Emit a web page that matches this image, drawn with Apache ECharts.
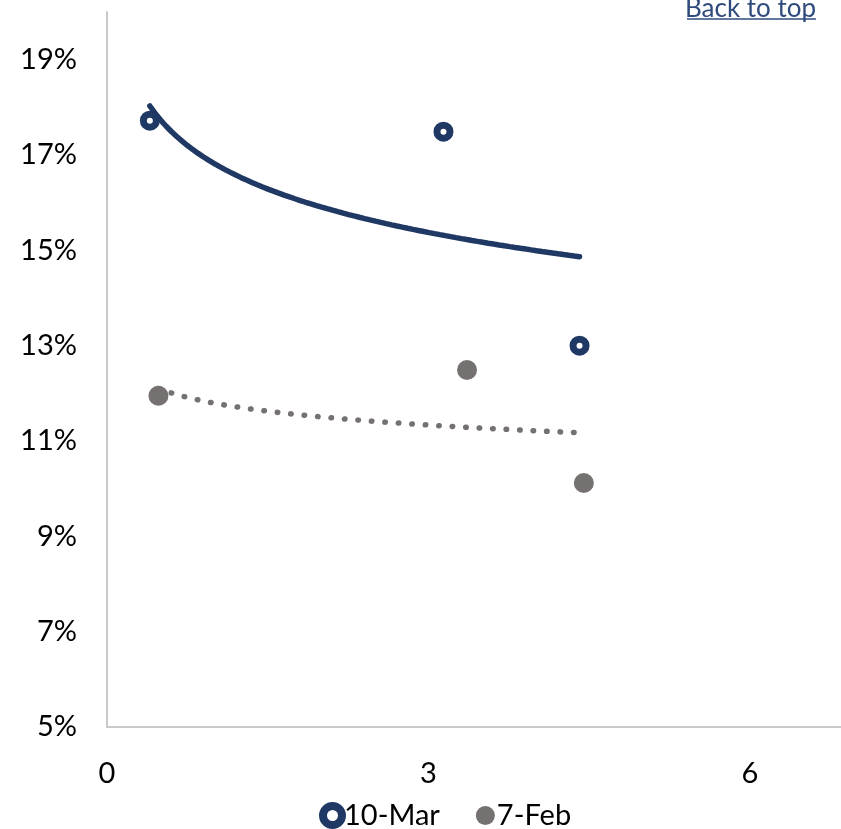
<!DOCTYPE html>
<html>
<head>
<meta charset="utf-8">
<script src="https://cdn.jsdelivr.net/npm/echarts@6/dist/echarts.min.js"></script>
<style>
  html, body { margin: 0; padding: 0; background: #fff; }
  #chart { width: 841px; height: 829px; }
</style>
</head>
<body>
<div id="chart"></div>
<script>
// Series names
const seriesNames = ['10-Mar', '7-Feb'];

// 10-Mar observations: x values and yields (%)
const marX = [0.40, 3.14, 4.41];
const marY = [17.72, 17.49, 13.00];

// 7-Feb observations: x values and yields (%)
const febX = [0.48, 3.36, 4.45];
const febY = [11.95, 12.49, 10.12];

// Axis ticks
const xTicks = [0, 3, 6];
const yTicks = [5, 7, 9, 11, 13, 15, 17, 19];

const NAVY = '#1f3864';
const GREY = '#767171';
const LINK = '#2f4b7c';
const FONT = 'Lato, "Open Sans", sans-serif';

// Least-squares fit of y = a + b*ln(x), sampled between the first and last x
function logTrend(xs, ys, steps) {
  const lx = xs.map(Math.log);
  const n = xs.length;
  const mx = lx.reduce((s, v) => s + v, 0) / n;
  const my = ys.reduce((s, v) => s + v, 0) / n;
  let sxx = 0, sxy = 0;
  for (let i = 0; i < n; i++) {
    sxx += (lx[i] - mx) * (lx[i] - mx);
    sxy += (lx[i] - mx) * (ys[i] - my);
  }
  const b = sxy / sxx;
  const a = my - b * mx;
  const lo = Math.min(...xs), hi = Math.max(...xs);
  const pts = [];
  for (let k = 0; k <= steps; k++) {
    const x = lo + (hi - lo) * k / steps;
    pts.push([x, a + b * Math.log(x)]);
  }
  return pts;
}

const pairs = (xs, ys) => xs.map((x, i) => [x, ys[i]]);

const chart = echarts.init(document.getElementById('chart'));
chart.setOption({
  animation: false,
  backgroundColor: '#fff',
  textStyle: { fontFamily: FONT },
  grid: { left: 107, right: 0, top: 12, bottom: 102, containLabel: false },
  xAxis: {
    type: 'value',
    min: xTicks[0],
    max: 6.85,
    interval: xTicks[1] - xTicks[0],
    axisLine: { show: true, lineStyle: { color: '#c9c9c9', width: 2 } },
    axisTick: { show: false },
    splitLine: { show: false },
    axisLabel: {
      showMaxLabel: false,
      color: '#000', fontSize: 29, fontFamily: FONT, margin: 32,
      formatter: v => xTicks.includes(v) ? String(v) : ''
    }
  },
  yAxis: {
    type: 'value',
    min: yTicks[0],
    max: 20,
    interval: yTicks[1] - yTicks[0],
    axisLine: { show: true, lineStyle: { color: '#c9c9c9', width: 2 } },
    axisTick: { show: false },
    splitLine: { show: false },
    axisLabel: {
      showMaxLabel: false,
      color: '#000', fontSize: 29, fontFamily: FONT, margin: 30,
      formatter: v => yTicks.includes(v) ? v + '%' : ''
    }
  },
  legend: {
    left: 314,
    bottom: -6,
    itemGap: 36,
    itemWidth: 19,
    itemHeight: 19,
    data: [
      { name: seriesNames[0], itemStyle: { color: '#fff', borderColor: NAVY, borderWidth: 8 } },
      { name: seriesNames[1], itemStyle: { color: GREY } }
    ],
    textStyle: { color: '#000', fontSize: 29, fontFamily: FONT, padding: [0, 0, 0, -3] }
  },
  graphic: [
    {
      type: 'text', x: 816, y: 22,
      style: { text: 'Back to top', fill: LINK, fontSize: 26, fontFamily: FONT, align: 'right', verticalAlign: 'bottom' }
    },
    {
      type: 'line',
      shape: { x1: 687, y1: 19, x2: 816, y2: 19 },
      style: { stroke: LINK, lineWidth: 1.5 }
    }
  ],
  series: [
    {
      name: seriesNames[0] + ' trend',
      type: 'line',
      data: logTrend(marX, marY, 80),
      showSymbol: false,
      lineStyle: { color: NAVY, width: 5.5, cap: 'round' },
      z: 2,
      silent: true
    },
    {
      name: seriesNames[1] + ' trend',
      type: 'line',
      data: logTrend(febX, febY, 80),
      showSymbol: false,
      lineStyle: { color: GREY, width: 5.5, type: [0.5, 13], cap: 'round' },
      z: 2,
      silent: true
    },
    {
      name: seriesNames[0],
      type: 'scatter',
      data: pairs(marX, marY),
      symbol: 'circle',
      symbolSize: 13,
      itemStyle: { color: '#fff', borderColor: NAVY, borderWidth: 7, opacity: 1 },
      z: 3
    },
    {
      name: seriesNames[1],
      type: 'scatter',
      data: pairs(febX, febY),
      symbol: 'circle',
      symbolSize: 20,
      itemStyle: { color: GREY, opacity: 1 },
      z: 3
    }
  ]
});
</script>
</body>
</html>
